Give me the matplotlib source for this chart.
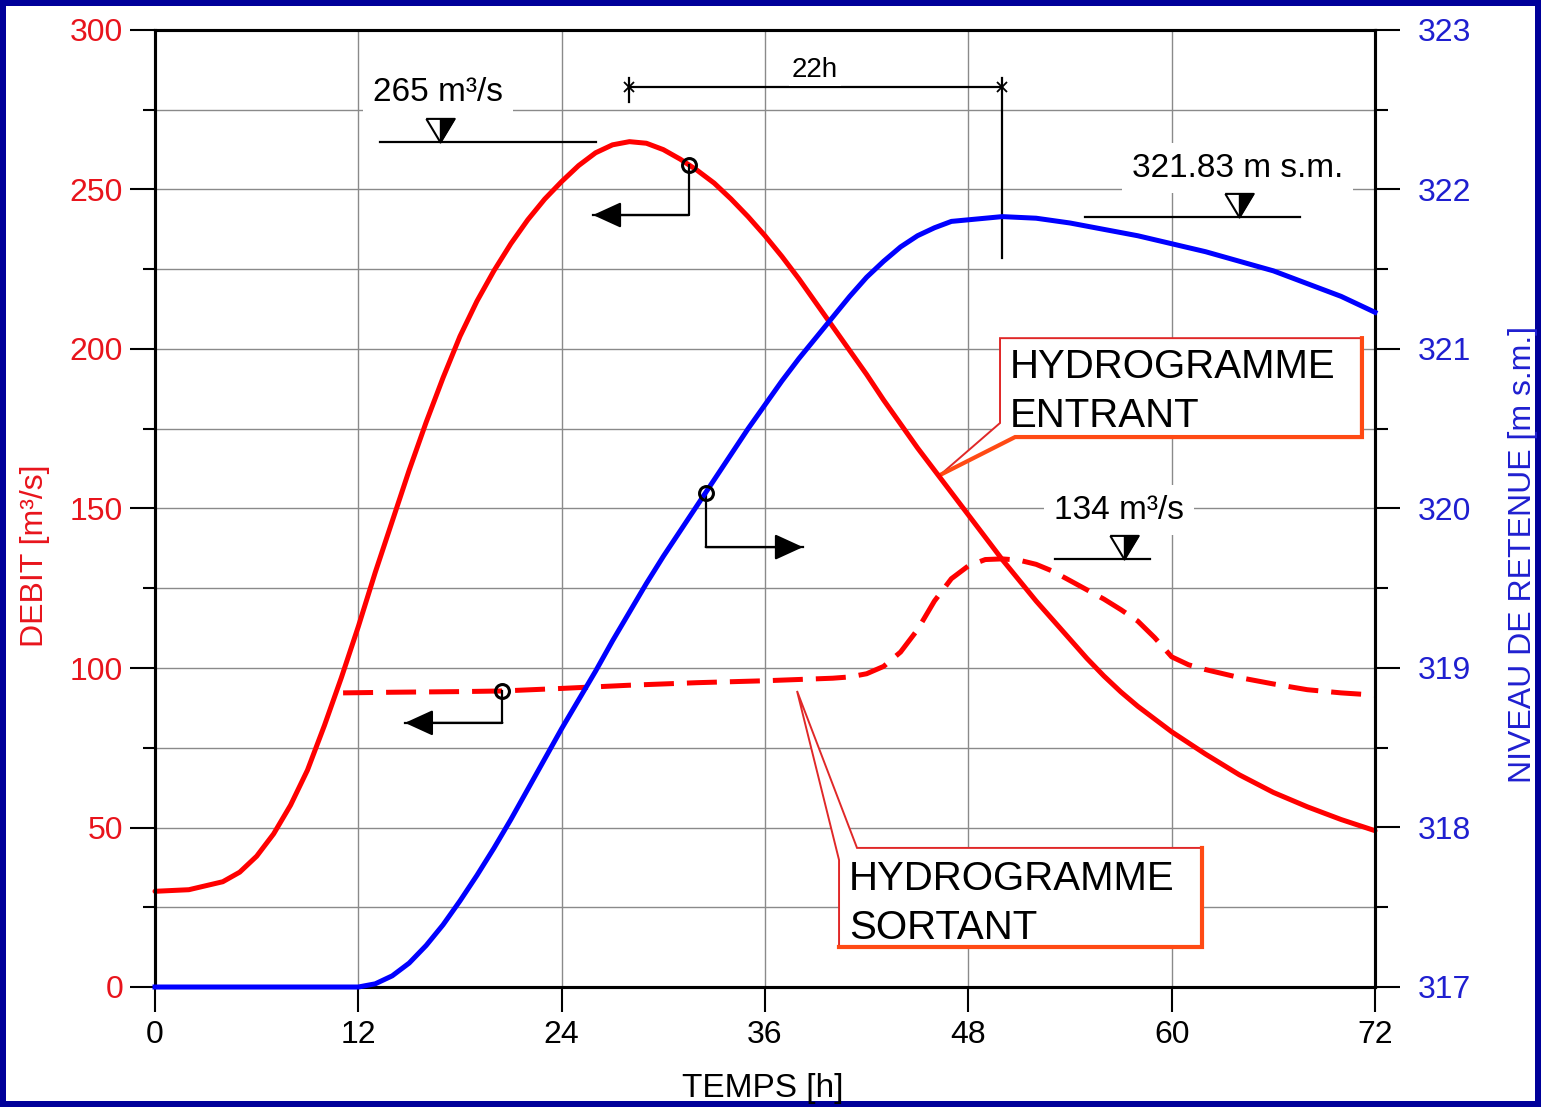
import numpy as np
import matplotlib
matplotlib.use('Agg')
import matplotlib.pyplot as plt
from matplotlib.patches import Polygon, Rectangle
from matplotlib.ticker import MultipleLocator

plt.rcParams['font.family'] = ['Liberation Sans', 'DejaVu Sans']

# inflow hydrograph (m3/s)
t_in = [0, 2, 4, 5, 6, 7, 8, 9, 10, 11, 12, 13, 14, 15, 16, 17, 18, 19, 20, 21,
        22, 23, 24, 25, 26, 27, 28, 29, 30, 31, 32, 33, 34, 35, 36, 37, 38, 39,
        40, 41, 42, 43, 44, 45, 46, 47, 48, 49, 50, 51, 52, 53, 54, 55, 56, 57,
        58, 59, 60, 62, 64, 66, 68, 70, 72]
q_in = [30, 30.5, 33, 36, 41, 48, 57, 68, 82, 97, 113, 130, 146, 162, 177, 191,
        204, 215, 224.5, 233, 240.5, 247, 252.5, 257.5, 261.5, 264, 265, 264.5,
        262.5, 259.5, 256, 252, 247, 241.5, 235.5, 229, 222, 214.5, 207, 199.5,
        192, 184, 176.5, 169, 162, 155, 148, 141, 134, 127.5, 121, 115, 109,
        103, 97.5, 92.5, 88, 84, 80, 73, 66.5, 61, 56.5, 52.5, 49]

# outflow hydrograph (m3/s)
t_out = [11.1, 14, 18, 20.5, 24, 28, 32, 36, 38, 40, 41, 42, 43, 44, 45, 46, 47,
         48, 49, 50, 51, 52, 53, 54, 55, 56, 57, 58, 59, 60, 61, 62, 64, 66, 68,
         70, 72]
q_out = [92.2, 92.4, 92.6, 92.8, 93.6, 94.6, 95.4, 96.0, 96.4, 96.8, 97.2, 98.2,
         100.5, 105, 112, 121, 128, 132, 134, 134.2, 133.8, 132.5, 130.3, 127.4,
         124.5, 121.6, 118.3, 114.7, 109.5, 103.5, 101, 99.5, 97, 95, 93.2,
         92.2, 91.5]

# reservoir level (m s.m.)
t_lvl = [0, 12, 13, 14, 15, 16, 17, 18, 19, 20, 21, 22, 23, 24, 25, 26, 27, 28,
         29, 30, 31, 32, 33, 34, 35, 36, 37, 38, 39, 40, 41, 42, 43, 44, 45, 46,
         47, 48, 49, 50, 52, 54, 56, 58, 60, 62, 64, 66, 68, 70, 72]
lvl = [317, 317, 317.02, 317.07, 317.15, 317.26, 317.39, 317.54, 317.7, 317.87,
       318.05, 318.24, 318.43, 318.62, 318.8, 318.98, 319.17, 319.35, 319.53,
       319.7, 319.86, 320.02, 320.18, 320.34, 320.5, 320.65, 320.8, 320.94,
       321.07, 321.2, 321.33, 321.45, 321.55, 321.64, 321.71, 321.76, 321.8,
       321.81, 321.82, 321.83, 321.82, 321.79, 321.75, 321.71, 321.66, 321.61,
       321.55, 321.49, 321.41, 321.33, 321.23]

RED = '#ff0000'
BLUE = '#0000ff'
LRED = '#e8141c'
LBLUE = '#1f1fd0'
GRID = '#8a8a8a'
EDGE_R = '#e02828'
EDGE_O = '#ff4a14'

W, H = 1541, 1107
fig = plt.figure(figsize=(W / 100, H / 100), dpi=100, facecolor='#00009a')
fig.add_artist(Rectangle((6 / W, 6 / H), 1 - 12 / W, 1 - 12 / H,
                         transform=fig.transFigure, fc='white', ec='none', zorder=-10))

ax = fig.add_axes([155 / W, 120 / H, 1220 / W, 957 / H])
ax.set_xlim(0, 72)
ax.set_ylim(0, 300)
ax2 = ax.twinx()
ax2.set_ylim(317, 323)

for a in (ax, ax2):
    for s in a.spines.values():
        s.set_linewidth(2.2)

ax.set_xticks(range(0, 73, 12))
ax.yaxis.set_major_locator(MultipleLocator(50))
ax.yaxis.set_minor_locator(MultipleLocator(25))
ax2.yaxis.set_major_locator(MultipleLocator(1))
ax2.yaxis.set_minor_locator(MultipleLocator(0.5))

ax.tick_params(axis='x', direction='out', length=18, width=1.5, labelsize=23,
               pad=6, top=False)
ax.tick_params(axis='y', which='major', direction='out', length=18, width=1.5,
               labelsize=23, labelcolor=LRED, pad=5, right=False)
ax.tick_params(axis='y', which='minor', direction='out', length=9, width=1.5,
               right=False)
ax2.tick_params(axis='y', which='major', direction='out', length=18, width=1.5,
                labelsize=23, labelcolor=LBLUE, pad=13, left=False)
ax2.tick_params(axis='y', which='minor', direction='out', length=9, width=1.5,
                left=False)

ax.grid(True, which='major', axis='x', color=GRID, lw=1.0)
ax.grid(True, which='both', axis='y', color=GRID, lw=1.0)

ax.set_xlabel('TEMPS [h]', fontsize=24)
ax.xaxis.set_label_coords(0.498, -0.09)
ax.set_ylabel('DEBIT [m³/s]', fontsize=23, color=LRED)
ax.yaxis.set_label_coords(-0.086, 0.451)
ax2.set_ylabel('NIVEAU DE RETENUE [m s.m.]', fontsize=23, color=LBLUE)
ax2.yaxis.set_label_coords(1.109, 0.452)

# curves
ax.plot(t_in, q_in, color=RED, lw=3.6, clip_on=False, zorder=4,
        solid_capstyle='round', solid_joinstyle='round')
ax.plot(t_out, q_out, color=RED, lw=3.6, dashes=(6, 2.6), clip_on=False, zorder=4)
ax2.plot(t_lvl, lvl, color=BLUE, lw=3.6, clip_on=False, zorder=4,
         solid_joinstyle='round')


# water level marks
def level_mark(a, t0, t1, tm, y, label, tx, ty):
    a.plot([t0, t1], [y, y], color='k', lw=1.6, zorder=5)
    a.plot(tm, y, marker=[(-0.6, 1), (0.6, 1), (0, 0), (-0.6, 1)], ms=34,
           mfc='white', mec='k', mew=1.5, zorder=6)
    a.plot(tm, y, marker=[(0, 1), (0.6, 1), (0, 0), (0, 1)], ms=34,
           mfc='k', mec='k', mew=1.0, zorder=7)
    a.text(tx, ty, label, ha='center', va='center', fontsize=24, zorder=5,
           bbox=dict(fc='white', ec='none', pad=7))


q_max = max(q_in)
qo_max = max(q_out)
l_max = max(lvl)
level_mark(ax, 13.3, 26.0, 16.8, q_max, f'{q_max:.0f} m³/s', 16.7, 280.3)
level_mark(ax, 53.1, 58.7, 57.2, qo_max, f'{qo_max:.0f} m³/s', 56.9, 149.5)
level_mark(ax2, 54.9, 67.6, 64.0, l_max, f'{l_max:.2f} m s.m.', 63.9,
           317 + 256.7 / 50)

# time lag between peaks
tp_in = t_in[int(np.argmax(q_in))]
tp_lvl = t_lvl[int(np.argmax(lvl))]
ax.plot([tp_in, tp_lvl], [282, 282], color='k', lw=1.6, zorder=5)
ax.plot([tp_in, tp_in], [277.4, 285], color='k', lw=1.6, zorder=5)
ax.plot([tp_lvl, tp_lvl], [228.5, 285], color='k', lw=1.6, zorder=5)
ax.plot([tp_in, tp_lvl], [282, 282], ls='none', marker='x', ms=7, mew=1.3,
        color='k', zorder=5)
ax.text((tp_in + tp_lvl) / 2 - 0.05, 287.5, f'{tp_lvl - tp_in:g}h', ha='center',
        va='center', fontsize=20, zorder=5, bbox=dict(fc='white', ec='none', pad=2))


# axis pointers
def pointer(t_c, y_c, y_corner, t_tip, circle_ax=None, circle_y=None):
    ax.plot([t_c, t_c, t_tip], [y_c, y_corner, y_corner], color='k', lw=1.6,
            zorder=5)
    ax.annotate('', xy=(t_tip, y_corner), xytext=(t_c, y_corner), zorder=6,
                arrowprops=dict(arrowstyle='-|>,head_length=0.7,head_width=0.32',
                                mutation_scale=25, color='k', lw=1.6,
                                shrinkA=0, shrinkB=0))
    ca = circle_ax if circle_ax is not None else ax
    cy = circle_y if circle_y is not None else y_c
    ca.plot(t_c, cy, marker='o', ms=10, mfc='none', mec='k', mew=2.2, zorder=8)


pointer(31.5, np.interp(31.5, t_in, q_in), 242, 25.85)
pointer(20.5, np.interp(20.5, t_out, q_out), 82.8, 14.75)
lv = np.interp(32.5, t_lvl, lvl)
pointer(32.5, (lv - 317) * 50, 137.9, 38.24, circle_ax=ax2, circle_y=lv)

# callout boxes
ent = [(49.87, 203.4), (71.23, 203.4), (71.23, 172.4), (50.76, 172.4),
       (46.33, 160.5), (49.87, 176.8)]
ax.add_patch(Polygon(ent, closed=True, fc='white', ec=EDGE_R, lw=1.4, zorder=3))
ax.plot([46.33, 50.76, 71.23, 71.23], [160.5, 172.4, 172.4, 203.4], color=EDGE_O,
        lw=3.0, zorder=3.1, solid_joinstyle='miter')
ax.text(50.46, 200.3, 'HYDROGRAMME\nENTRANT', ha='left', va='top', fontsize=29,
        linespacing=1.35, zorder=5)

sor = [(40.37, 39.8), (37.89, 92.8), (41.43, 43.6), (61.79, 43.6),
       (61.79, 12.5), (40.37, 12.5)]
ax.add_patch(Polygon(sor, closed=True, fc='white', ec=EDGE_R, lw=1.4, zorder=3))
ax.plot([61.79, 61.79, 40.37], [43.6, 12.5, 12.5], color=EDGE_O, lw=3.0,
        zorder=3.1, solid_joinstyle='miter')
ax.text(40.96, 39.8, 'HYDROGRAMME\nSORTANT', ha='left', va='top', fontsize=29,
        linespacing=1.35, zorder=5)

fig.savefig('out.png', dpi=100, facecolor=fig.get_facecolor())
